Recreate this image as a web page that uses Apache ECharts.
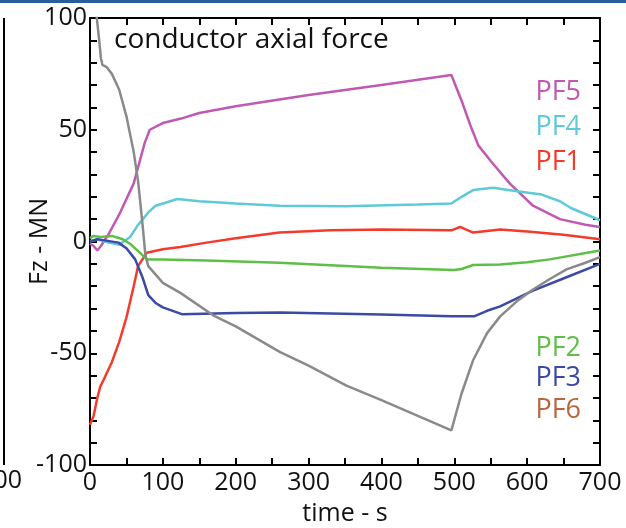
<!DOCTYPE html>
<html>
<head>
<meta charset="utf-8">
<script src="https://cdn.jsdelivr.net/npm/echarts@6/dist/echarts.min.js"></script>
<style>html,body{margin:0;padding:0;background:#fff;}#c{width:626px;height:528px;}</style>
</head>
<body>
<div id="c"></div>
<script>
var seriesNames = ['PF5', 'PF4', 'PF1', 'PF2', 'PF3', 'PF6'];
var xTicks = [0, 100, 200, 300, 400, 500, 600, 700];
var yTicks = [-100, -50, 0, 50, 100];

var pf5 = [[0,-1],[5,-2],[10,-4],[15,-2],[25,3],[40,12],[60,26],[75,44],[82,50],[100,53],[125,55],[150,57.5],[200,60.5],[260,63.5],[300,65.5],[400,70],[496,74.5],[510,63],[522,52],[533,43],[550,36],[576,26],[608,16],[645,10],[680,7.5],[700,6.5]];
var pf4 = [[0,0],[10,1],[20,0],[40,-1.5],[55,2],[65,7],[80,13],[90,16],[120,19],[150,18],[200,17],[260,16],[350,15.8],[450,16.5],[496,17],[510,20],[526,23],[553,24],[586,22.5],[620,21],[645,18],[660,15],[700,9.5]];
var pf1 = [[0,-82],[5,-78],[10,-70],[14,-65],[20,-61],[30,-54],[40,-45],[50,-34],[60,-20],[66,-11],[78,-5],[100,-3.5],[124,-2.5],[160,-0.5],[200,1.5],[260,4],[330,5],[400,5.4],[496,5],[508,6.5],[515,5.5],[526,4],[563,5.4],[600,4.5],[650,3],[700,1]];
var pf2 = [[0,1.5],[5,2.5],[15,2],[30,2.5],[45,1],[55,-1],[65,-4],[78,-8],[100,-8],[160,-8.5],[260,-9.5],[400,-11.8],[500,-12.8],[510,-12.3],[526,-10.5],[563,-10.3],[600,-9.3],[631,-8],[700,-4]];
var pf3 = [[0,0],[10,1],[20,0.5],[39,-0.5],[50,-3],[62,-8],[72,-16],[80,-24],[90,-27.5],[100,-29.5],[126,-32.5],[200,-32],[261,-31.8],[400,-32.7],[496,-33.4],[528,-33.4],[545,-31],[563,-29],[608,-22],[654,-16],[700,-10]];
var pf6 = [[9,101],[12,92],[15,82],[17,79],[23,78],[30,75],[40,68],[50,56],[60,40],[66,27],[72,8],[76,-6],[80,-11],[100,-18.5],[124,-23],[169,-33],[200,-38],[261,-49.5],[300,-55.5],[352,-64.5],[400,-71],[450,-78],[496,-84.5],[510,-68],[526,-53],[545,-41],[563,-33.5],[585,-27],[608,-21.5],[630,-17],[654,-12.5],[680,-9.5],[700,-7]];

var seriesData = [pf5, pf4, pf1, pf2, pf3, pf6];
var lineColors = ['#c059b4', '#5ec9d9', '#f23b2b', '#5dbf46', '#3b4aa6', '#8a8a8a'];
var labelColors = ['#c059b4', '#5ec9d9', '#f23b2b', '#5dbf46', '#3b4aa6', '#b9663f'];
var labelY = [92, 127, 162, 348, 378, 410];

var FONT = 'Open Sans';
var chart = echarts.init(document.getElementById('c'), null, {renderer: 'canvas'});

var axisCommon = {
  axisLine: {show: true, onZero: false, lineStyle: {color: '#000', width: 2}},
  axisTick: {show: true, inside: true, length: 7, lineStyle: {color: '#000', width: 2}},
  minorTick: {show: true, length: 7, lineStyle: {color: '#000', width: 2}},
  splitLine: {show: false}
};

var graphics = [
  {type: 'line', shape: {x1: 0, y1: 1.5, x2: 626, y2: 1.5}, style: {stroke: '#2a5d9a', lineWidth: 3}},
  {type: 'line', shape: {x1: 4, y1: 18, x2: 4, y2: 465}, style: {stroke: '#000', lineWidth: 2}},
  {type: 'text', x: 22, y: 481, style: {text: '700', font: '25px "' + FONT + '"', fill: '#111', align: 'right', verticalAlign: 'middle'}},
  {type: 'text', x: 114, y: 40, style: {text: 'conductor axial force', font: '28px "' + FONT + '"', fill: '#111', align: 'left', verticalAlign: 'middle'}}
];
for (var i = 0; i < seriesNames.length; i++) {
  graphics.push({type: 'text', x: 581, y: labelY[i],
    style: {text: seriesNames[i], font: '27px "' + FONT + '"', fill: labelColors[i], align: 'right', verticalAlign: 'middle'}});
}

var series = [];
for (var j = 0; j < seriesData.length; j++) {
  series.push({
    name: seriesNames[j], type: 'line', data: seriesData[j],
    showSymbol: false, symbol: 'none', smooth: false, clip: true,
    lineStyle: {color: lineColors[j], width: 2.5}, z: 2
  });
}

chart.setOption({
  animation: false,
  backgroundColor: '#fff',
  grid: {left: 90, right: 26, top: 18, bottom: 63, containLabel: false, outerBoundsMode: 'none'},
  xAxis: [
    Object.assign({}, axisCommon, {
      type: 'value', min: 0, max: 700, interval: 100, position: 'bottom',
      minorTick: Object.assign({}, axisCommon.minorTick, {splitNumber: 2}),
      name: 'time - s', nameLocation: 'middle', nameGap: 36, nameMoveOverlap: false,
      nameTextStyle: {fontFamily: FONT, fontSize: 25, color: '#111', verticalAlign: 'top'},
      axisLabel: {show: true, fontFamily: FONT, fontSize: 25, color: '#111', margin: 5}
    }),
    Object.assign({}, axisCommon, {
      type: 'value', min: 0, max: 700, interval: 100, position: 'top',
      minorTick: Object.assign({}, axisCommon.minorTick, {splitNumber: 2}),
      axisLabel: {show: false}
    })
  ],
  yAxis: [
    Object.assign({}, axisCommon, {
      type: 'value', min: -100, max: 100, interval: 50, position: 'left',
      minorTick: Object.assign({}, axisCommon.minorTick, {splitNumber: 5}),
      name: 'Fz - MN', nameLocation: 'middle', nameGap: 38, nameMoveOverlap: false,
      nameTextStyle: {fontFamily: FONT, fontSize: 25, color: '#111'},
      axisLabel: {show: true, fontFamily: FONT, fontSize: 25, color: '#111', margin: 3}
    }),
    Object.assign({}, axisCommon, {
      type: 'value', min: -100, max: 100, interval: 50, position: 'right',
      minorTick: Object.assign({}, axisCommon.minorTick, {splitNumber: 5}),
      axisLabel: {show: false}
    })
  ],
  series: series,
  graphic: graphics
});
</script>
</body>
</html>
